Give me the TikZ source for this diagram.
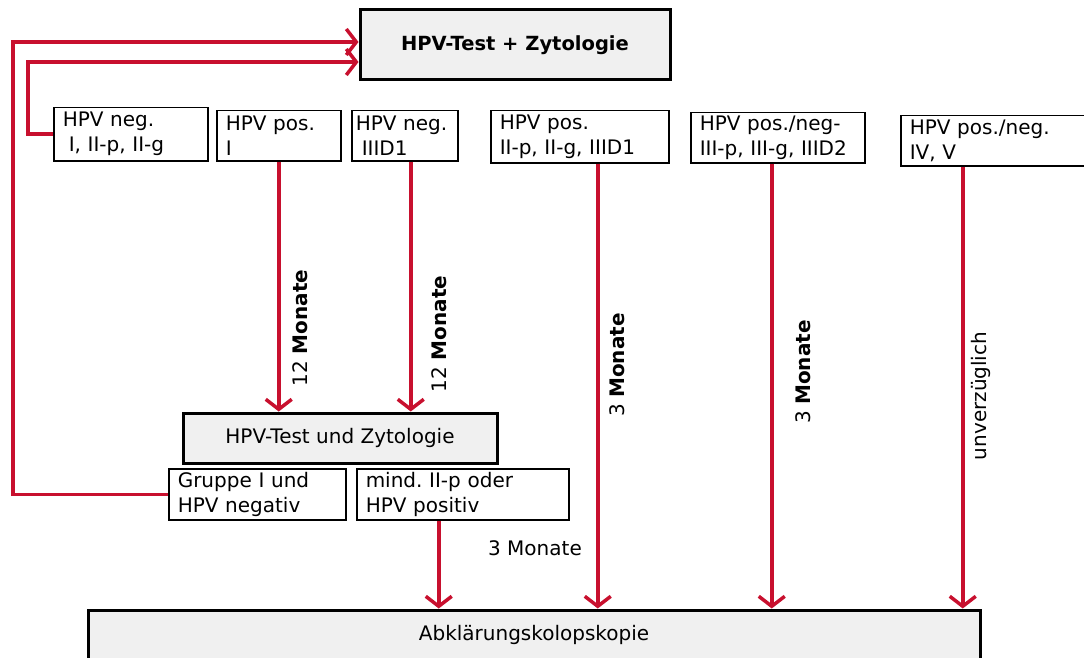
\documentclass[tikz,border=0pt]{standalone}
\usepackage{fontspec}
\setmainfont{DejaVu Sans}
\usepackage{tikz}
\usetikzlibrary{arrows.meta}
\definecolor{hpvred}{RGB}{200,16,46}
\definecolor{boxgray}{RGB}{240,240,240}
\frenchspacing

\begin{document}
\begin{tikzpicture}[x=1pt,y=-1pt,
  font=\fontsize{20}{25}\selectfont,
  main_box/.style={draw,line width=3pt,fill=boxgray,inner sep=0pt},
  opt_box/.style={draw,line width=1.5pt,align=left,anchor=north west,inner xsep=9pt,inner ysep=2pt},
  red_arrow/.style={draw=hpvred,line width=3.5pt,-{Straight Barb[length=10pt,width=26pt,line width=3.5pt]}},
  time_label/.style={rotate=90,inner sep=0pt}]
\useasboundingbox (0,0) rectangle (1084,658);
\clip (0,0) rectangle (1084,658);
	\node[main_box,minimum width=310pt,minimum height=70pt] (top) at (515,45) {\fontsize{19.5}{23}\selectfont\bfseries HPV-Test + Zytologie};
    \node[opt_box,text width=136pt,minimum height=53pt] (b1) at (53,107) {HPV neg.\\\hspace*{6pt}I, II-p, II-g};
    \node[opt_box,text width=106pt,minimum height=50pt] (b2) at (216,110) {HPV pos.\\I};
    \node[opt_box,text width=98pt,minimum height=50pt,inner xsep=4pt] (b3) at (351,110) {HPV neg.\\\hspace*{6pt}IIID1};
    \node[opt_box,text width=160pt,minimum height=52pt] (b4) at (490,110) {HPV pos.\\II-p, II-g, IIID1};
    \node[opt_box,text width=156pt,minimum height=50pt] (b5) at (690,112) {HPV pos./neg-\\III-p, III-g, IIID2};
    \node[opt_box,text width=182pt,minimum height=50pt] (b6) at (900,115) {HPV pos./neg.\\IV, V};
    \node[main_box,minimum width=314pt,minimum height=50pt] (mid) at (340,438) {HPV-Test und Zytologie};
    \node[opt_box,text width=159pt,minimum height=51pt] (g1) at (168,468) {Gruppe I und\\HPV negativ};
    \node[opt_box,text width=194pt,minimum height=51pt] (g2) at (356,468) {mind. II-p oder\\HPV positiv};
    \node[main_box,minimum width=892pt,minimum height=50pt] (kolpo) at (534,635) {Abklärungskolopskopie};
    \node[time_label] (t1) at (300,328) {12 \textbf{Monate}};
    \node[time_label] (t2) at (439,334) {12 \textbf{Monate}};
    \node[time_label] (t3) at (617,365) {3 \textbf{Monate}};
    \node[time_label] (t4) at (803,372) {3 \textbf{Monate}};
    \node[time_label] (t5) at (981,396) {unverzüglich};
    \node[inner sep=0pt] (t6) at (535,548) {3 Monate};
\draw[red_arrow] (b2.south) -- (b2.south |- mid.north);
\draw[red_arrow] ([xshift=6pt]b3.south) -- ([xshift=6pt]b3.south |- mid.north);
\draw[red_arrow] ([xshift=18pt]b4.south) -- ([xshift=18pt]b4.south |- kolpo.north);
\draw[red_arrow] ([xshift=-6pt]b5.south) -- ([xshift=-6pt]b5.south |- kolpo.north);
\draw[red_arrow] ([xshift=-38pt]b6.south) -- ([xshift=-38pt]b6.south |- kolpo.north);
\draw[red_arrow] ([xshift=-24pt]g2.south) -- ([xshift=-24pt]g2.south |- kolpo.north);
\draw[red_arrow] (b1.west) -- ++(-25,0) |- ([yshift=-17pt]top.west);
\draw[red_arrow] (g1.west) -- ++(-155,0) |- ([yshift=3pt]top.west);
\end{tikzpicture}
\end{document}
